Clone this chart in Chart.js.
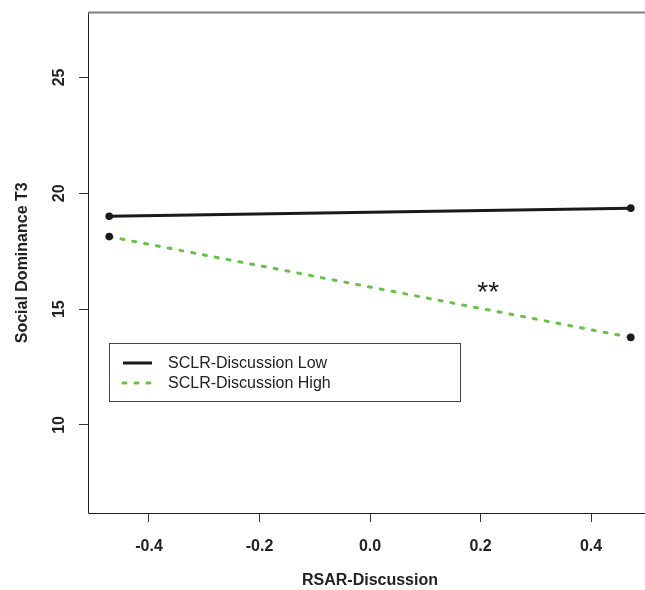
<html>
<head>
<title>Social Dominance T3</title>
<style>
  body { margin: 0; overflow: hidden; background: #fff; }
  canvas { display: block; }
</style>
</head>
<body>
<canvas id="plot" width="660" height="590"></canvas>
<script src="https://cdn.jsdelivr.net/npm/chart.js"></script>
<script>
// values
const xValues = [-0.472, 0.472];
const lowValues = [19.01, 19.36];
const highValues = [18.13, 13.78];
const xTicks = [-0.4, -0.2, 0.0, 0.2, 0.4];
const yTicks = [10, 15, 20, 25];
const seriesNames = ["SCLR-Discussion Low", "SCLR-Discussion High"];
const xTitle = "RSAR-Discussion";
const yTitle = "Social Dominance T3";
const noteText = "**";
const noteAt = [0.214, 15.7];

const FONT = "'Liberation Sans', Arial, Helvetica, sans-serif";
const GREEN = "#68c14a";

function points(xs, ys) {
    return xs.map((x, i) => ({ x: x, y: ys[i] }));
}

// frame, y labels, titles, legend and the ** note
const extras = {
    id: "extras",
    afterDraw(chart) {
        const c = chart.ctx;
        const a = chart.chartArea;
        const xs = chart.scales.x;
        const ys = chart.scales.y;
        c.save();

        // box
        c.strokeStyle = "#222";
        c.lineWidth = 1;
        c.beginPath();
        c.moveTo(a.left + 0.5, a.top);
        c.lineTo(a.left + 0.5, a.bottom + 0.5);
        c.lineTo(a.right, a.bottom + 0.5);
        c.lineTo(a.right, a.top);
        c.stroke();
        c.strokeStyle = "#808080";
        c.lineWidth = 2;
        c.beginPath();
        c.moveTo(a.left, a.top);
        c.lineTo(a.right, a.top);
        c.stroke();

        // y tick labels, rotated like R
        c.fillStyle = "#222";
        c.font = "bold 16px " + FONT;
        c.textAlign = "center";
        c.textBaseline = "middle";
        yTicks.forEach(v => {
            c.save();
            c.translate(60, ys.getPixelForValue(v));
            c.rotate(-Math.PI / 2);
            c.fillText(String(v), 0, 0);
            c.restore();
        });

        // axis titles
        c.fillText(xTitle, xs.getPixelForValue(0), 581);
        c.save();
        c.translate(23, (a.top + a.bottom) / 2);
        c.rotate(-Math.PI / 2);
        c.fillText(yTitle, 0, 0);
        c.restore();

        // note
        c.font = "28px " + FONT;
        c.fillText(noteText, xs.getPixelForValue(noteAt[0]), ys.getPixelForValue(noteAt[1]));

        // legend
        c.fillStyle = "#fff";
        c.fillRect(109.5, 343.5, 351, 58);
        c.strokeStyle = "#444";
        c.lineWidth = 1;
        c.strokeRect(109.5, 343.5, 351, 58);
        chart.data.datasets.forEach((ds, i) => {
            const y = 363 + i * 20;
            c.strokeStyle = ds.borderColor;
            c.lineWidth = ds.borderWidth;
            c.lineCap = ds.borderCapStyle || "butt";
            c.setLineDash(ds.borderDash || []);
            c.beginPath();
            c.moveTo(123, y);
            c.lineTo(152, y);
            c.stroke();
            c.setLineDash([]);
            c.fillStyle = "#222";
            c.font = "16px " + FONT;
            c.textAlign = "left";
            c.fillText(ds.label, 168, y + 1);
        });
        c.restore();
    }
};

new Chart(document.getElementById("plot"), {
    type: "scatter",
    data: {
        datasets: [
            {
                label: seriesNames[0],
                data: points(xValues, lowValues),
                showLine: true,
                borderColor: "#1a1a1a",
                borderWidth: 3,
                pointRadius: 3.8,
                pointBackgroundColor: "#1a1a1a",
                pointBorderWidth: 0
            },
            {
                label: seriesNames[1],
                data: points(xValues, highValues),
                showLine: true,
                borderColor: GREEN,
                borderWidth: 3,
                borderDash: [3, 9],
                borderCapStyle: "round",
                pointRadius: 3.8,
                pointBackgroundColor: "#1a1a1a",
                pointBorderWidth: 0
            }
        ]
    },
    options: {
        responsive: false,
        animation: false,
        events: [],
        layout: { padding: { top: 9, right: 8, left: 0, bottom: 0 } },
        plugins: { legend: { display: false }, tooltip: { enabled: false } },
        scales: {
            x: {
                type: "linear",
                min: -0.5104,
                max: 0.5104,
                afterBuildTicks: s => { s.ticks = xTicks.map(v => ({ value: v })); },
                afterFit: s => { s.height = 77; },
                border: { display: false },
                grid: { drawOnChartArea: false, drawTicks: true, tickLength: 9, color: "#333" },
                ticks: {
                    padding: 15,
                    color: "#222",
                    font: { family: FONT, size: 16, weight: "bold" },
                    maxRotation: 0,
                    callback: v => v.toFixed(1)
                }
            },
            y: {
                type: "linear",
                min: 6.2,
                max: 27.8,
                afterBuildTicks: s => { s.ticks = yTicks.map(v => ({ value: v })); },
                afterFit: s => { s.width = 88; },
                border: { display: false },
                grid: { drawOnChartArea: false, drawTicks: true, tickLength: 9, color: "#333" },
                ticks: { color: "rgba(0,0,0,0)", font: { family: FONT, size: 16 } }
            }
        }
    },
    plugins: [extras]
});
</script>
</body>
</html>
